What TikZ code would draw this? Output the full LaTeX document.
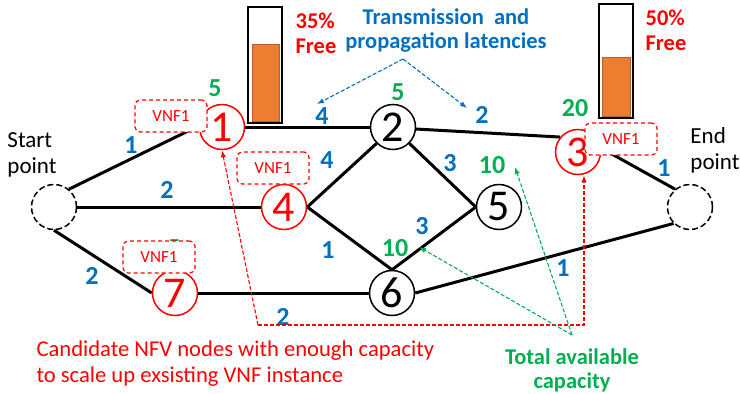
\documentclass[tikz,border=0pt]{standalone}
\usepackage{fontspec}
\setmainfont{Carlito}
\usepackage{xcolor}
\definecolor{linkblue}{HTML}{0070C0}
\definecolor{capgreen}{HTML}{00B050}
\definecolor{nfvred}{HTML}{FF0000}
\definecolor{gaugeorange}{HTML}{ED7D31}
\definecolor{gaugeedge}{HTML}{B5622A}
\usetikzlibrary{arrows.meta, positioning, calc}

\tikzset{
  router/.style={circle, draw, line width=1.5pt, minimum size=45pt, inner sep=0pt,
    fill=white, font=\fontsize{44}{44}\selectfont},
  nfv/.style={router, draw=nfvred, text=nfvred},
  endpoint/.style={circle, draw, line width=1.5pt, dash pattern=on 6pt off 3pt,
    minimum size=45pt, inner sep=0pt},
  link/.style={line width=3pt},
  latency/.style={text=linkblue, font=\bfseries\fontsize{26}{26}\selectfont},
  capacity/.style={text=capgreen, font=\bfseries\fontsize{26}{26}\selectfont},
  vnfbox/.style={draw=nfvred, fill=white, line width=1.2pt, dash pattern=on 4pt off 3pt,
    rounded corners=5pt, minimum width=72pt, minimum height=32pt, text=nfvred,
    font=\fontsize{17}{17}\selectfont},
  endlabel/.style={align=left, font=\fontsize{23}{26}\selectfont},
  note/.style={align=center, font=\bfseries\fontsize{22.5}{24}\selectfont},
}

\begin{document}
\begin{tikzpicture}[x=1pt, y=-1pt]
  \useasboundingbox (0,0) rectangle (740,394);

  % Capacity gauges
  \draw[line width=1.2pt] (248,7) rectangle (282,123);
  \draw[gaugeedge, fill=gaugeorange] (252,44) rectangle (279,121);
  \draw[line width=1.2pt] (599,4) rectangle (633,118);
  \draw[gaugeedge, fill=gaugeorange] (602,57) rectangle (630,116);
  \node[red, font=\bfseries\fontsize{22.5}{25}\selectfont, align=left] (free1) at (316,33) {35\%\\Free};
  \node[red, font=\bfseries\fontsize{22.5}{25}\selectfont, align=left] (free3) at (666,30) {50\%\\Free};

  % Capacity label partly hidden by the VNF1 box of node 7
  \node[capacity] (cap7) at (174,248) {5};

  % Network nodes
  \node[endpoint] (src) at (54,207) {};
  \node[endpoint] (dst) at (690,207) {};
  \node[nfv] (n1) at (222,127) {1};
  \node[router] (n2) at (393,127) {2};
  \node[nfv] (n3) at (578,152) {3};
  \node[nfv] (n4) at (284,207) {4};
  \node[router] (n5) at (499,207) {5};
  \node[router] (n6) at (392,293) {6};
  \node[nfv] (n7) at (175,293) {7};
  \node[endlabel] (srctext) at (32,155) {Start\\point};
  \node[endlabel] (dsttext) at (715,150) {End\\point};

  % Links
  \draw[link] (src.50) -- (n1.177);
  \draw[link] (src.east) -- (n4.west);
  \draw[link] (src.south) -- (n7.west);
  \draw[link] (n1.east) -- (n2.west);
  \draw[link] (n2.-5) -- (n3.140);
  \draw[link] (n2.225) -- (n4.east);
  \draw[link] (n2.-45) -- (n5.west);
  \draw[link] (n4.east) -- (n6.north);
  \draw[link] (n5.west) -- (n6.north);
  \draw[link] (n3.10) -- (dst.130);
  \draw[link] (n6.east) -- (dst.225);
  \draw[link] (n7.east) -- (n6.west);

  % VNF1 instances
  \node[vnfbox] (vnf1) at (171,116) {VNF1};
  \node[vnfbox] (vnf4) at (273,168) {VNF1};
  \node[vnfbox] (vnf7) at (159,257) {VNF1};
  \node[vnfbox] (vnf3) at (621,139) {VNF1};

  % Latencies
  \node[latency] (ls1) at (131,145) {1};
  \node[latency] (ls4) at (167,190) {2};
  \node[latency] (ls7) at (92,276) {2};
  \node[latency] (l12) at (322,116) {4};
  \node[latency] (l23) at (482,115) {2};
  \node[latency] (l24) at (327,160) {4};
  \node[latency] (l25) at (450,163) {3};
  \node[latency] (l46) at (328,250) {1};
  \node[latency] (l56) at (422,226) {3};
  \node[latency] (l6d) at (563,268) {1};
  \node[latency] (l3d) at (664,168) {1};
  \node[latency] (l76) at (283,317) {2};

  % Available capacities
  \node[capacity] (cap1) at (215,88) {5};
  \node[capacity] (cap2) at (398,92) {5};
  \node[capacity] (cap3) at (575,108) {20};
  \node[capacity] (cap5) at (492,165) {10};
  \node[capacity] (cap6) at (395,248) {10};

  % Latency callout
  \node[note, text=linkblue] (latnote) at (446,31) {Transmission\ \ and\\propagation latencies};
  \coordinate (latsrc) at (403,59);
  \coordinate (lattip1) at (317,104);
  \coordinate (lattip2) at (467,108);
  \draw[linkblue, line width=1.1pt, dash pattern=on 4pt off 2pt, -{Latex[length=7pt]}] (latsrc) -- (lattip1);
  \draw[linkblue, line width=1.1pt, dash pattern=on 4pt off 2pt, -{Latex[length=7pt]}] (latsrc) -- (lattip2);

  % Candidate NFV nodes callout
  \coordinate (nfvcorner) at (258,325);
  \coordinate (nfvright) at (584,325);
  \draw[nfvred, line width=1.1pt, dash pattern=on 4pt off 2pt, -{Latex[length=7pt]}] (nfvcorner) -- (n1.south);
  \draw[nfvred, line width=1.1pt, dash pattern=on 4pt off 2pt, -{Latex[length=7pt]}] (nfvcorner) -- (nfvright) -- (nfvright |- n3.south);
  \node[nfvred, align=left, anchor=west, font=\fontsize{22.6}{26}\selectfont] (nfvnote) at (33,364)
    {Candidate NFV nodes with enough capacity\\to scale up exsisting VNF instance};

  % Capacity callout
  \coordinate (capsrc) at (572,335);
  \coordinate (captip5) at (515,167);
  \coordinate (captip6) at (419,247);
  \draw[capgreen, line width=1.1pt, dash pattern=on 4pt off 2pt, -{Latex[length=7pt]}] (capsrc) -- (captip5);
  \draw[capgreen, line width=1.1pt, dash pattern=on 4pt off 2pt, -{Latex[length=7pt]}] (capsrc) -- (captip6);
  \node[note, text=capgreen] (capnote) at (572,370) {Total available\\capacity};
\end{tikzpicture}
\end{document}
